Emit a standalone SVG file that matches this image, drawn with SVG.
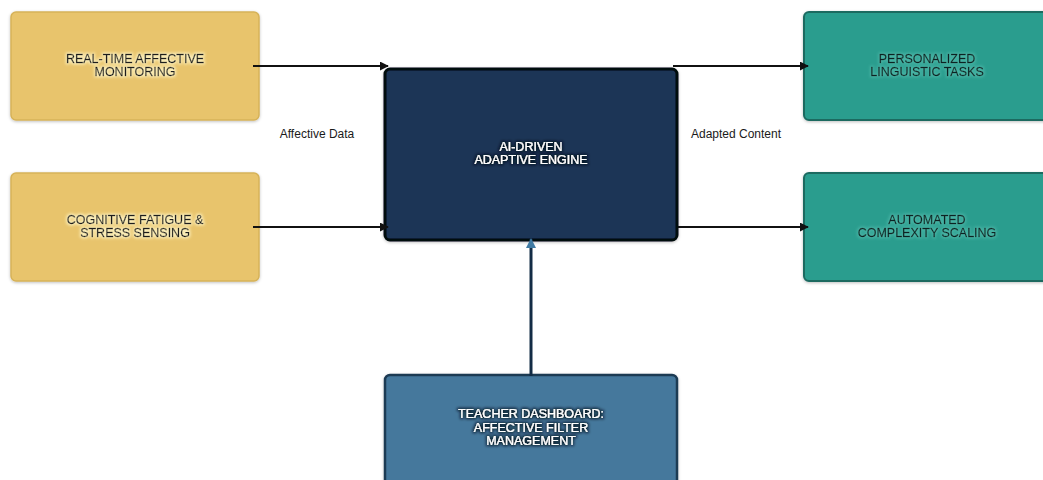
<svg xmlns="http://www.w3.org/2000/svg" width="1043" height="480" viewBox="0 0 1043 480">
  <defs>
    <style>
      .node-text { font-family: "Liberation Sans", Arial, sans-serif; font-size: 12.5px; text-anchor: middle; stroke-width: 0.35px; }
      .edge-label { font-family: "Liberation Sans", Arial, sans-serif; font-size: 12px; fill: #1a1a1a; text-anchor: middle; }
      .sensor rect { fill: #E8C46C; stroke: #D6B258; stroke-width: 1.5; }
      .sensor text { fill: #1b1b1b; stroke: #1b1b1b; }
      .engine rect { fill: #1E3556; stroke: #05090f; stroke-width: 3; }
      .engine text { fill: #ffffff; stroke: #ffffff; stroke-width: 0.2px; }
      .output rect { fill: #2A9D8E; stroke: #1B6A60; stroke-width: 2; }
      .output text { fill: #0b2422; stroke: #0b2422; }
      .control rect { fill: #44789C; stroke: #1C3A53; stroke-width: 2.5; }
      .control text { fill: #ffffff; stroke: #ffffff; stroke-width: 0.2px; }
      .edge { stroke: #111111; stroke-width: 2; fill: none; }
      .edge-up { stroke: #132c45; stroke-width: 3; fill: none; }
    </style>
    <marker id="arrow" viewBox="0 0 10 10" refX="9" refY="5" markerWidth="4.5" markerHeight="4.5" orient="auto" markerUnits="strokeWidth">
      <path d="M0,0 L10,5 L0,10 z" fill="#111111"/>
    </marker>
    <marker id="arrow-up" viewBox="0 0 10 10" refX="9" refY="5" markerWidth="3.5" markerHeight="3.5" orient="auto" markerUnits="strokeWidth">
      <path d="M0,0 L10,5 L0,10 z" fill="#3f7aa3"/>
    </marker>
    <filter id="glow-light" x="-20%" y="-50%" width="140%" height="200%">
      <feMorphology in="SourceAlpha" operator="dilate" radius="1" result="d"/>
      <feGaussianBlur in="d" stdDeviation="1.5" result="b"/>
      <feFlood flood-color="#FFF6C8" flood-opacity="0.9"/>
      <feComposite in2="b" operator="in" result="g"/>
      <feMerge><feMergeNode in="g"/><feMergeNode in="SourceGraphic"/></feMerge>
    </filter>
    <filter id="glow-teal" x="-20%" y="-50%" width="140%" height="200%">
      <feMorphology in="SourceAlpha" operator="dilate" radius="1" result="d"/>
      <feGaussianBlur in="d" stdDeviation="1.5" result="b"/>
      <feFlood flood-color="#6FD3C4" flood-opacity="0.45"/>
      <feComposite in2="b" operator="in" result="g"/>
      <feMerge><feMergeNode in="g"/><feMergeNode in="SourceGraphic"/></feMerge>
    </filter>
    <filter id="glow-dark" x="-20%" y="-50%" width="140%" height="200%">
      <feMorphology in="SourceAlpha" operator="dilate" radius="1" result="d"/>
      <feGaussianBlur in="d" stdDeviation="1.5" result="b"/>
      <feFlood flood-color="#08101c" flood-opacity="0.85"/>
      <feComposite in2="b" operator="in" result="g"/>
      <feMerge><feMergeNode in="g"/><feMergeNode in="SourceGraphic"/></feMerge>
    </filter>
    <filter id="shadow" x="-10%" y="-10%" width="120%" height="130%">
      <feDropShadow dx="0" dy="1" stdDeviation="1.5" flood-color="#000" flood-opacity="0.25"/>
    </filter>
  </defs>

  <rect width="1043" height="480" fill="#ffffff"/>

  <!-- input nodes -->
  <g id="node-affective-monitoring" class="sensor">
    <rect x="11" y="12" width="248" height="108" rx="5" filter="url(#shadow)"/>
    <text class="node-text" x="135" y="63" filter="url(#glow-light)">REAL-TIME AFFECTIVE</text>
    <text class="node-text" x="135" y="76" filter="url(#glow-light)">MONITORING</text>
  </g>
  <g id="node-fatigue-sensing" class="sensor">
    <rect x="11" y="173" width="248" height="108" rx="5" filter="url(#shadow)"/>
    <text class="node-text" x="135" y="224" filter="url(#glow-light)">COGNITIVE FATIGUE &amp;</text>
    <text class="node-text" x="135" y="237" filter="url(#glow-light)">STRESS SENSING</text>
  </g>

  <!-- central engine -->
  <g id="node-engine" class="engine">
    <rect x="385" y="69" width="292" height="171" rx="5" filter="url(#shadow)"/>
    <text class="node-text" x="531" y="151" filter="url(#glow-dark)">AI-DRIVEN</text>
    <text class="node-text" x="531" y="164" filter="url(#glow-dark)">ADAPTIVE ENGINE</text>
  </g>

  <!-- output nodes -->
  <g id="node-linguistic-tasks" class="output">
    <rect x="804" y="12" width="250" height="108" rx="5" filter="url(#shadow)"/>
    <text class="node-text" x="927" y="63" filter="url(#glow-teal)">PERSONALIZED</text>
    <text class="node-text" x="927" y="76" filter="url(#glow-teal)">LINGUISTIC TASKS</text>
  </g>
  <g id="node-complexity-scaling" class="output">
    <rect x="804" y="173" width="250" height="108" rx="5" filter="url(#shadow)"/>
    <text class="node-text" x="927" y="224" filter="url(#glow-teal)">AUTOMATED</text>
    <text class="node-text" x="927" y="237" filter="url(#glow-teal)">COMPLEXITY SCALING</text>
  </g>

  <!-- teacher control -->
  <g id="node-teacher-dashboard" class="control">
    <rect x="385" y="375" width="292" height="120" rx="5" filter="url(#shadow)"/>
    <text class="node-text" x="531" y="418" filter="url(#glow-dark)">TEACHER DASHBOARD:</text>
    <text class="node-text" x="531" y="432" filter="url(#glow-dark)">AFFECTIVE FILTER</text>
    <text class="node-text" x="531" y="445" filter="url(#glow-dark)">MANAGEMENT</text>
  </g>

  <!-- connectors -->
  <g id="connectors">
    <line class="edge" x1="253" y1="66" x2="388" y2="66" marker-end="url(#arrow)"/>
    <line class="edge" x1="253" y1="227" x2="388" y2="227" marker-end="url(#arrow)"/>
    <line class="edge" x1="673" y1="66" x2="808" y2="66" marker-end="url(#arrow)"/>
    <line class="edge" x1="678" y1="227" x2="808" y2="227" marker-end="url(#arrow)"/>
    <line class="edge-up" x1="531" y1="376" x2="531" y2="239" marker-end="url(#arrow-up)"/>
    <text class="edge-label" x="317" y="138">Affective Data</text>
    <text class="edge-label" x="736" y="138">Adapted Content</text>
  </g>
</svg>
